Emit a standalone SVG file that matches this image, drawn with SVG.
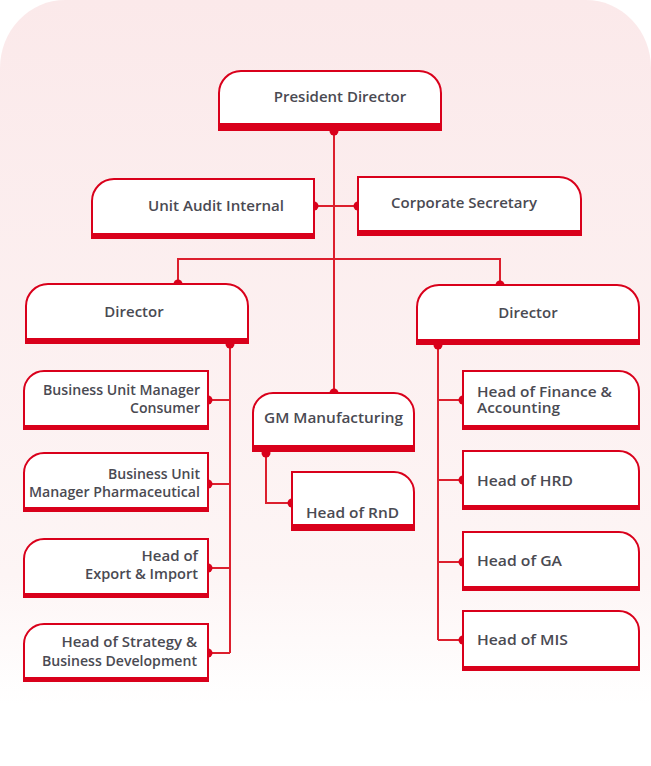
<svg xmlns="http://www.w3.org/2000/svg" width="651" height="766" viewBox="0 0 651 766">
<defs>
<linearGradient id="bg" x1="0" y1="0" x2="0" y2="1">
<stop offset="0" stop-color="#fbe9ea"/>
<stop offset="0.75" stop-color="#fdf5f5"/>
<stop offset="0.92" stop-color="#ffffff"/>
</linearGradient>
<style>
.box{fill:#ffffff;stroke:#d9001b;stroke-width:2}
.bar{fill:#d9001b}
.ln{fill:none;stroke:#dc1f2d;stroke-width:2}
.dot{fill:#d9001b}
text{font-family:"Open Sans","Noto Sans","Liberation Sans",sans-serif;font-weight:600;font-size:15px;fill:#4a4a52}
.m{text-anchor:middle}
.e{text-anchor:end}
</style>
</defs>
<rect x="0" y="0" width="651" height="766" fill="#ffffff"/>
<path d="M0 766 V68 A65 68 0 0 1 65 0 H586 A65 68 0 0 1 651 68 V766 Z" fill="url(#bg)"/>

<g id="connectors">
<path class="ln" d="M334 131 V393"/>
<path class="ln" d="M314 206 H358"/>
<path class="ln" d="M178 284 V259 H500 V285"/>
<path class="ln" d="M230 344 V653 M208 400 H230 M208 484 H230 M208 568 H230 M208 653 H230"/>
<path class="ln" d="M438 345 V640 M438 400 H463 M438 480 H463 M438 562 H463 M438 640 H463"/>
<path class="ln" d="M266 453 V503 H292"/>
<circle class="dot" cx="334" cy="131" r="4.5"/>
<circle class="dot" cx="334" cy="393" r="4.5"/>
<circle class="dot" cx="314" cy="206" r="4.5"/>
<circle class="dot" cx="358" cy="206" r="4.5"/>
<circle class="dot" cx="178" cy="284" r="4.5"/>
<circle class="dot" cx="500" cy="285" r="4.5"/>
<circle class="dot" cx="230" cy="344" r="4.5"/>
<circle class="dot" cx="208" cy="400" r="4.5"/>
<circle class="dot" cx="208" cy="484" r="4.5"/>
<circle class="dot" cx="208" cy="568" r="4.5"/>
<circle class="dot" cx="208" cy="653" r="4.5"/>
<circle class="dot" cx="438" cy="345" r="4.5"/>
<circle class="dot" cx="463" cy="400" r="4.5"/>
<circle class="dot" cx="463" cy="480" r="4.5"/>
<circle class="dot" cx="463" cy="562" r="4.5"/>
<circle class="dot" cx="463" cy="640" r="4.5"/>
<circle class="dot" cx="266" cy="453" r="4.5"/>
<circle class="dot" cx="292" cy="503" r="4.5"/>
</g>

<g id="president">
<path class="box" d="M219 127 V93 A22 22 0 0 1 241 71 H419 A22 22 0 0 1 441 93 V127 Z"/>
<rect class="bar" x="218" y="123" width="224" height="8"/>
<text class="m" x="340" y="102">President Director</text>
</g>

<g id="unit-audit">
<path class="box" d="M92 236 V201 A22 22 0 0 1 114 179 H314 V236 Z"/>
<rect class="bar" x="91" y="233" width="224" height="6"/>
<text class="m" x="216" y="211" textLength="136" lengthAdjust="spacingAndGlyphs">Unit Audit Internal</text>
</g>

<g id="corp-sec">
<path class="box" d="M358 233 V177 H559 A22 22 0 0 1 581 199 V233 Z"/>
<rect class="bar" x="357" y="230" width="225" height="6"/>
<text class="m" x="464" y="208">Corporate Secretary</text>
</g>

<g id="director-left">
<path class="box" d="M26 341 V306 A22 22 0 0 1 48 284 H226 A22 22 0 0 1 248 306 V341 Z"/>
<rect class="bar" x="25" y="338" width="224" height="6"/>
<text class="m" x="134" y="317">Director</text>
</g>

<g id="director-right">
<path class="box" d="M417 342 V307 A22 22 0 0 1 439 285 H617 A22 22 0 0 1 639 307 V342 Z"/>
<rect class="bar" x="416" y="339" width="224" height="6"/>
<text class="m" x="528" y="318">Director</text>
</g>

<g id="gm-manufacturing">
<path class="box" d="M253 448 V413 A20 20 0 0 1 273 393 H394 A20 20 0 0 1 414 413 V448 Z"/>
<rect class="bar" x="252" y="445" width="163" height="7"/>
<text class="m" x="333.5" y="423" textLength="139" lengthAdjust="spacingAndGlyphs">GM Manufacturing</text>
</g>

<g id="head-rnd">
<path class="box" d="M292 527 V472 H394 A20 20 0 0 1 414 492 V527 Z"/>
<rect class="bar" x="291" y="524" width="124" height="7"/>
<text class="m" x="352.5" y="518" textLength="93" lengthAdjust="spacingAndGlyphs">Head of RnD</text>
</g>

<g id="bum-consumer">
<path class="box" d="M24 428 V391 A20 20 0 0 1 44 371 H208 V428 Z"/>
<rect class="bar" x="23" y="425" width="186" height="5"/>
<text class="e"><tspan x="200" y="395" textLength="157" lengthAdjust="spacingAndGlyphs">Business Unit Manager</tspan><tspan x="200" y="413" textLength="70" lengthAdjust="spacingAndGlyphs">Consumer</tspan></text>
</g>

<g id="bum-pharma">
<path class="box" d="M24 510 V473 A20 20 0 0 1 44 453 H208 V510 Z"/>
<rect class="bar" x="23" y="507" width="186" height="5"/>
<text class="e"><tspan x="200" y="479" textLength="92" lengthAdjust="spacingAndGlyphs">Business Unit</tspan><tspan x="200" y="497" textLength="171" lengthAdjust="spacingAndGlyphs">Manager Pharmaceutical</tspan></text>
</g>

<g id="export-import">
<path class="box" d="M24 596 V559 A20 20 0 0 1 44 539 H208 V596 Z"/>
<rect class="bar" x="23" y="593" width="186" height="5"/>
<text class="e"><tspan x="198" y="561">Head of</tspan><tspan x="198" y="579" textLength="113" lengthAdjust="spacingAndGlyphs">Export &amp; Import</tspan></text>
</g>

<g id="strategy">
<path class="box" d="M24 680 V644 A20 20 0 0 1 44 624 H208 V680 Z"/>
<rect class="bar" x="23" y="677" width="186" height="5"/>
<text class="e"><tspan x="197" y="647">Head of Strategy &amp;</tspan><tspan x="197" y="666" textLength="155" lengthAdjust="spacingAndGlyphs">Business Development</tspan></text>
</g>

<g id="finance">
<path class="box" d="M463 428 V371 H619 A20 20 0 0 1 639 391 V428 Z"/>
<rect class="bar" x="462" y="425" width="178" height="5"/>
<text><tspan x="477" y="397" textLength="135" lengthAdjust="spacingAndGlyphs">Head of Finance &amp;</tspan><tspan x="477" y="413" textLength="83" lengthAdjust="spacingAndGlyphs">Accounting</tspan></text>
</g>

<g id="hrd">
<path class="box" d="M463 508 V451 H619 A20 20 0 0 1 639 471 V508 Z"/>
<rect class="bar" x="462" y="505" width="178" height="5"/>
<text x="477" y="486" textLength="96" lengthAdjust="spacingAndGlyphs">Head of HRD</text>
</g>

<g id="ga">
<path class="box" d="M463 589 V532 H619 A20 20 0 0 1 639 552 V589 Z"/>
<rect class="bar" x="462" y="586" width="178" height="5"/>
<text x="477" y="566" textLength="85" lengthAdjust="spacingAndGlyphs">Head of GA</text>
</g>

<g id="mis">
<path class="box" d="M463 669 V611 H619 A20 20 0 0 1 639 631 V669 Z"/>
<rect class="bar" x="462" y="666" width="178" height="5"/>
<text x="477" y="645" textLength="91" lengthAdjust="spacingAndGlyphs">Head of MIS</text>
</g>
</svg>
